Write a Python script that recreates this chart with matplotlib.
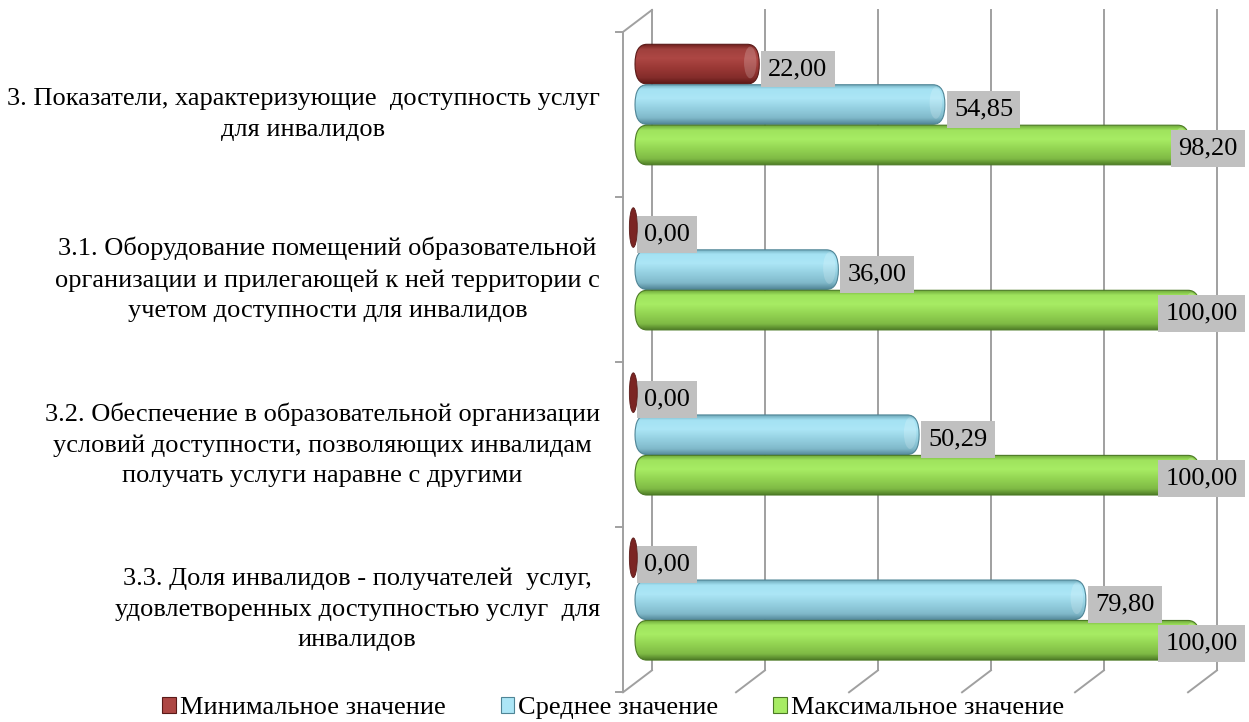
import numpy as np
import matplotlib.pyplot as plt
from matplotlib.patches import FancyBboxPatch, Ellipse, Patch
from matplotlib.colors import LinearSegmentedColormap

# data
categories = [
    "3. Показатели, характеризующие  доступность услуг\nдля инвалидов",
    "3.1. Оборудование помещений образовательной\nорганизации и прилегающей к ней территории с\nучетом доступности для инвалидов",
    "3.2. Обеспечение в образовательной организации\nусловий доступности, позволяющих инвалидам\nполучать услуги наравне с другими",
    "3.3. Доля инвалидов - получателей  услуг,\nудовлетворенных доступностью услуг  для\nинвалидов",
]
min_vals = [22.00, 0.00, 0.00, 0.00]
mean_vals = [54.85, 36.00, 50.29, 79.80]
max_vals = [98.20, 100.00, 100.00, 100.00]
series_names = ["Минимальное значение", "Среднее значение", "Максимальное значение"]
grid_ticks = [0, 20, 40, 60, 80, 100]

FONT = ['Liberation Serif', 'DejaVu Serif']
plt.rcParams['font.family'] = FONT

# cylinder shading, top -> bottom
shades = {
    "red": ['#6f1f1d', '#a0403d', '#ad4744', '#9a3835', '#832c2a', '#5c1816'],
    "blue": ['#6fa9bb', '#a4e2f3', '#ace6f6', '#95d0e1', '#80b9ca', '#55899a'],
    "green": ['#6ea83a', '#9fe35d', '#a7ec64', '#93d452', '#7fba45', '#4f7d27'],
}
edges = {"red": '#5a1a18', "blue": '#4f8596', "green": '#4c7a25'}
stops = [0, 0.12, 0.35, 0.6, 0.85, 1]

fig = plt.figure(figsize=(12.49, 7.22), dpi=100)
# axes placed so that value 0 sits at x=635px and 100 at x=1200px
ax = fig.add_axes([606.75 / 1249, 1 - 702.2 / 722, 638.45 / 1249, 700 / 722])
ax.set_xlim(-5, 108)
ax.set_ylim(3.62, -0.62)
ax.axis('off')

n = len(categories)
bar_h = 0.24
off = [-0.245, 0.0, 0.245]
back_dx, back_dy = 3.0, -0.073
front_dx, front_dy = -2.12, 0.06
gc = '#a0a0a0'

# back wall gridlines and floor
y_top_b, y_bot_b = -0.5 + back_dy, n - 0.5 + back_dy
y_top_f, y_bot_f = -0.5 + front_dy, n - 0.5 + front_dy
for v in grid_ticks:
    ax.plot([v + back_dx] * 2, [y_top_b, y_bot_b], color=gc, lw=1.4, zorder=1)
    ax.plot([v + back_dx, v + front_dx], [y_bot_b, y_bot_f], color=gc, lw=1.4, zorder=1)
ax.plot([front_dx] * 2, [y_top_f, y_bot_f], color=gc, lw=1.4, zorder=1)
ax.plot([front_dx, back_dx], [y_top_f, y_top_b], color=gc, lw=1.4, zorder=1)
for b in np.arange(n + 1) - 0.5 + front_dy:
    ax.plot([front_dx - 1.25, front_dx], [b, b], color=gc, lw=1.4, zorder=1)


def cylinder(v, yc, key):
    if v <= 0:
        ax.add_patch(Ellipse((-0.3, yc - 0.01), 1.4, bar_h, fc='#7b2523', ec='#5a1a18', lw=0.6, zorder=7))
        return
    r = 2.1
    patch = FancyBboxPatch((0, yc - bar_h / 2), v, bar_h,
                           boxstyle=f"round,pad=0,rounding_size={r}",
                           mutation_aspect=(bar_h / 2) / r,
                           fc='none', ec=edges[key], lw=0.8, zorder=4)
    ax.add_patch(patch)
    cmap = LinearSegmentedColormap.from_list(key, list(zip(stops, shades[key])))
    grad = np.linspace(0, 1, 64).reshape(-1, 1)
    im = ax.imshow(grad, cmap=cmap, aspect='auto', origin='upper',
                   extent=(0, v, yc + bar_h / 2, yc - bar_h / 2), zorder=3)
    im.set_clip_path(patch)
    hl = Ellipse((v - 1.6, yc - 0.01), 2.2, bar_h * 0.8, fc='white', ec='none', alpha=0.18, zorder=3.5)
    ax.add_patch(hl)
    hl.set_clip_path(patch)


box = dict(boxstyle='square,pad=0.28', fc='#c0c0c0', ec='none')
for i in range(n):
    for j, (vals, key) in enumerate(zip([min_vals, mean_vals, max_vals], ["red", "blue", "green"])):
        v = vals[i]
        yc = i + off[j]
        cylinder(v, yc, key)
        txt = f"{v:.2f}".replace('.', ',')
        if v >= 90:
            ax.text(106.65, yc + 0.02, txt, ha='right', va='center', fontsize=19, zorder=6,
                    family=FONT, bbox=box)
        else:
            ax.text(v + 1.6, yc + 0.03, txt, ha='left', va='center', fontsize=19, zorder=6,
                    family=FONT, bbox=box)
    ax.text(-6.2, i + 0.06, categories[i], ha='right', va='center', multialignment='center',
            fontsize=19, linespacing=1.5, family=FONT)

ax.set_xlim(-5, 108)
ax.set_ylim(3.62, -0.62)

handles = [Patch(fc=shades[k][2], ec=edges[k], lw=0.8) for k in ["red", "blue", "green"]]
fig.legend(handles, series_names, loc='center', bbox_to_anchor=(613 / 1249, 1 - 708 / 722),
           ncol=3, frameon=False, prop={'family': FONT, 'size': 19},
           handlelength=0.5, handleheight=0.6,
           handletextpad=0.15, columnspacing=2.1, borderaxespad=0, borderpad=0)

fig.savefig('out.png', dpi=100)
